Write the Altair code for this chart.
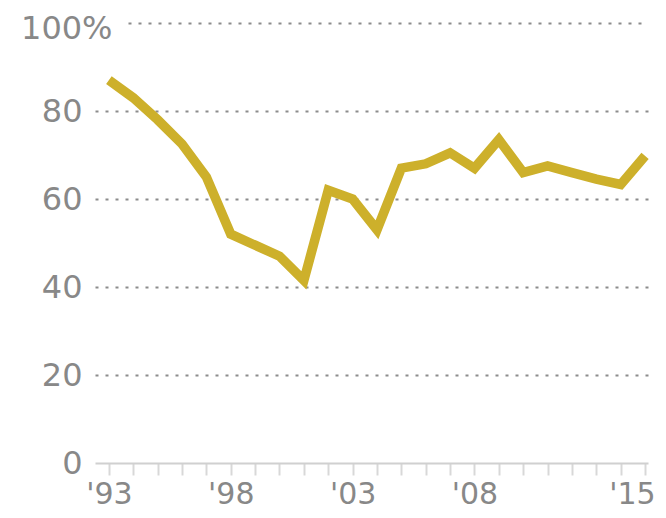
import altair as alt
import pandas as pd

# ---- data ----
years = list(range(1993, 2016))
share = [87, 83, 78, 72.5, 65, 52, 49.5, 47, 41.5, 62, 60, 53, 67, 68, 70.5,
         67, 73.5, 66, 67.5, 66, 64.5, 63.3, 69.8]
y_ticks = [0, 20, 40, 60, 80, 100]
x_label_years = [1993, 1998, 2003, 2008, 2015]

df = pd.DataFrame({"year": years, "share": share})

FONT = "DejaVu Sans"
LABEL_COLOR = "#888888"
LINE_COLOR = "#cdb02b"

label_list = ",".join(str(v) for v in x_label_years)
x_label_expr = (
    f"indexof([{label_list}], datum.value) >= 0 ? "
    "\"'\" + slice(toString(datum.value), 2) : ''"
)
last_year = years[-1]
top_tick = y_ticks[-1]

dash_normal = [3, 7]
dash_top = [0, 33] + [3, 7] * 53

x_axis = alt.Axis(
    values=years,
    labelExpr=x_label_expr,
    title=None,
    grid=False,
    domainColor="#d0d0d0",
    domainWidth=2,
    tickColor="#d8d8d8",
    tickWidth=2,
    tickSize=12,
    labelPadding=4,
    labelFont=FONT,
    labelFontSize=30,
    labelColor=LABEL_COLOR,
    labelAlign={"condition": {"test": f"datum.value == {last_year}", "value": "right"},
                "value": "center"},
    labelOffset={"condition": {"test": f"datum.value == {last_year}", "value": 10},
                 "value": 0},
    labelFlush=False,
    labelOverlap=False,
)

y_axis = alt.Axis(
    values=y_ticks,
    labelExpr=f"datum.value == {top_tick} ? '{top_tick}%' : datum.label",
    title=None,
    domain=False,
    ticks=False,
    tickSize=0,
    grid=True,
    gridColor="#8c8c8c",
    gridWidth=2,
    gridDash={"condition": {"test": f"datum.value == {top_tick}", "value": dash_top},
              "value": dash_normal},
    gridOpacity={"condition": {"test": "datum.value == 0", "value": 0},
                 "value": 1},
    labelPadding={"condition": {"test": f"datum.value == {top_tick}", "value": -17},
                  "value": 13},
    labelOffset={"condition": {"test": f"datum.value == {top_tick}", "value": 5},
                 "value": 0},
    labelFont=FONT,
    labelFontSize=32,
    labelColor=LABEL_COLOR,
    labelAlign="right",
    labelBaseline="middle",
)

chart = (
    alt.Chart(df)
    .mark_line(color=LINE_COLOR, strokeWidth=9.5, strokeJoin="miter",
               strokeCap="butt", clip=False)
    .encode(
        x=alt.X("year:Q",
                scale=alt.Scale(domain=[1992.43, 2015.12], nice=False, zero=False),
                axis=x_axis),
        y=alt.Y("share:Q",
                scale=alt.Scale(domain=[0, 100], nice=False),
                axis=y_axis),
    )
    .properties(
        width=553,
        height=440,
        autosize=alt.AutoSizeParams(type="none"),
        padding={"left": 87, "top": 15, "right": 10, "bottom": 47},
        background="white",
    )
    .configure_view(stroke=None)
)

chart.save("out.html", embed_options={"renderer": "svg", "actions": False})
